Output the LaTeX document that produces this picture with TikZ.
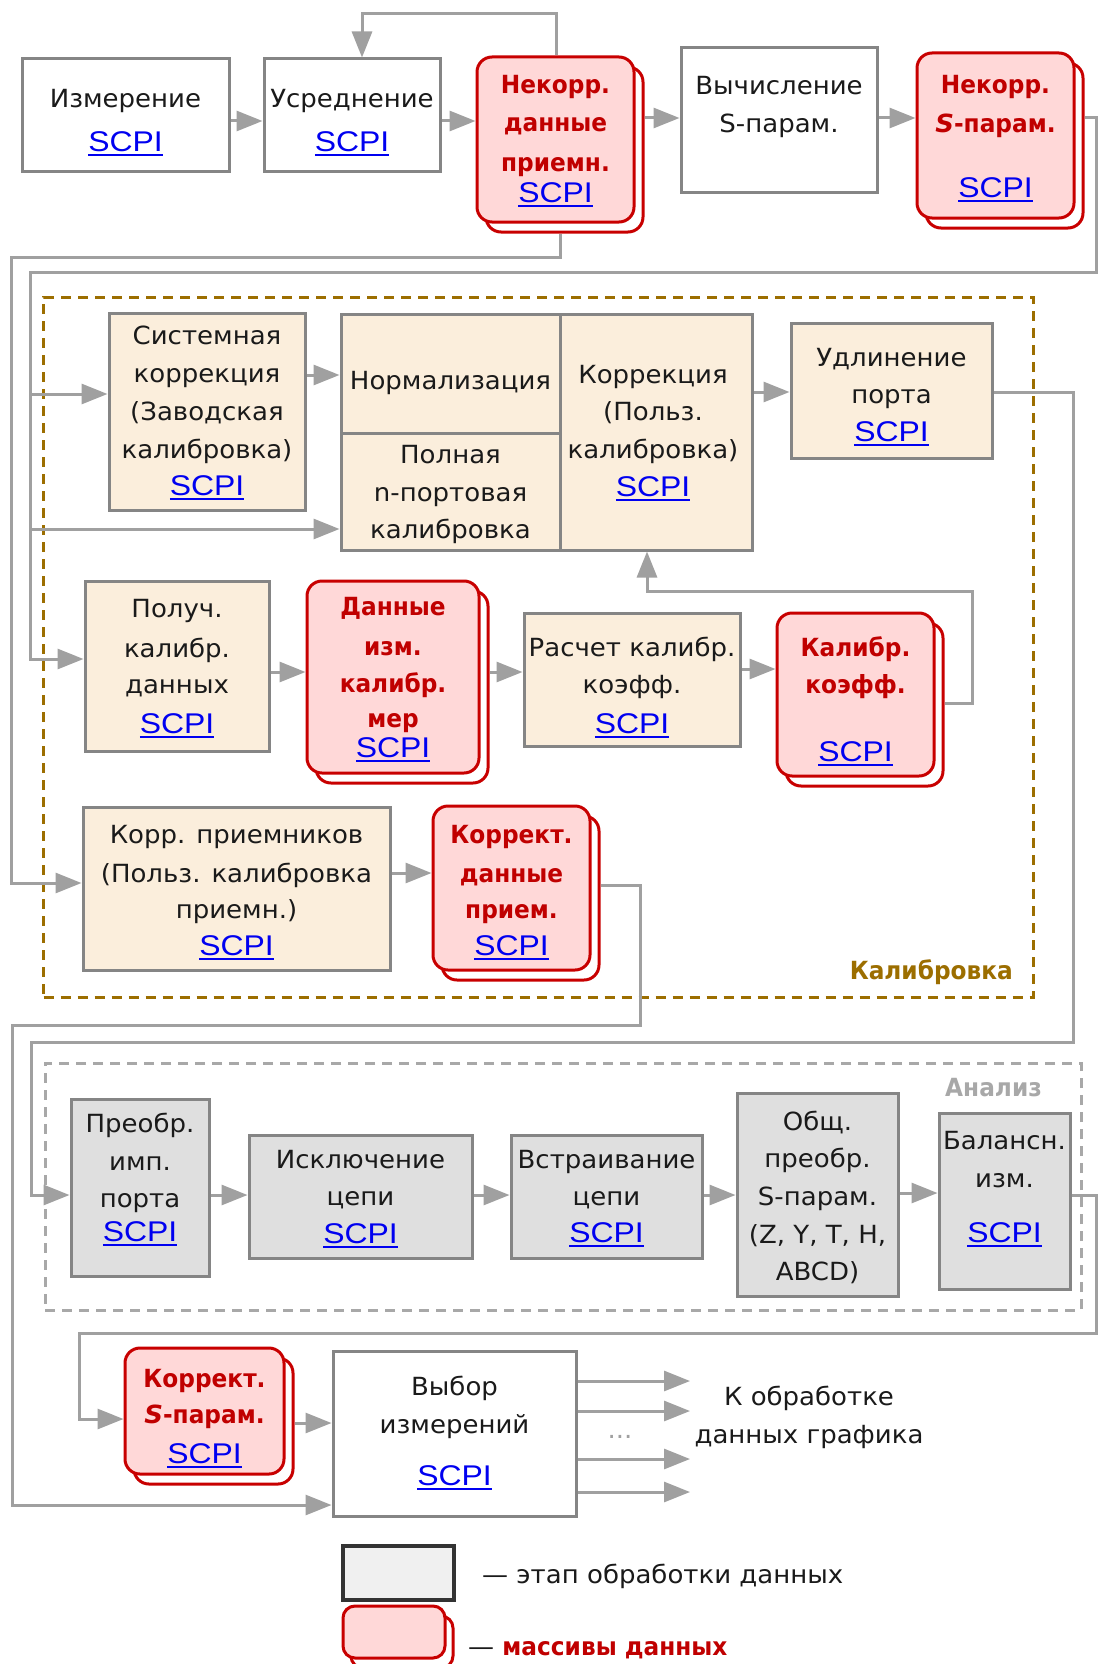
\documentclass[tikz,border=0pt]{standalone}
\usepackage{fontspec}
\setmainfont[FakeStretch=1.04, BoldFeatures={FakeStretch=0.93}]{DejaVu Sans}
\newfontfamily\scpifont[FakeStretch=1.12]{Liberation Sans}
\usetikzlibrary{arrows.meta}
\definecolor{lgray}{HTML}{A0A0A0}
\definecolor{bgray}{HTML}{858585}
\definecolor{beige}{HTML}{FBEEDC}
\definecolor{agray}{HTML}{DFDFDF}
\definecolor{rborder}{HTML}{C80000}
\definecolor{rfill}{HTML}{FFD8D8}
\definecolor{rtext}{HTML}{C00000}
\definecolor{scpiblue}{HTML}{0000F0}
\definecolor{tcol}{HTML}{1A1A1A}
\definecolor{calgold}{HTML}{9C6E00}
\definecolor{angray}{HTML}{A8A8A8}
\definecolor{legdark}{HTML}{333333}
\definecolor{legfill}{HTML}{F0F0F0}
\newcommand\ulscpi{\setbox0\hbox{SCPI}\rlap{\raisebox{-4.5pt}{\rule{\wd0}{2pt}}}\box0}
\tikzset{
  conn/.style={draw=lgray, line width=3pt, -{Triangle[length=26pt,width=20pt]}},
  sz/.style 2 args={minimum width=#1pt, minimum height=#2pt},
  wbox/.style={draw=bgray, line width=3pt, fill=white, inner sep=0pt},
  cbox/.style={wbox, fill=beige},
  abox/.style={wbox, fill=agray},
  rfront/.style={draw=rborder, line width=3pt, fill=rfill, rounded corners=15pt, inner sep=0pt},
  rback/.style={draw=rborder, line width=3pt, fill=white, rounded corners=15pt, inner sep=0pt},
  tx/.style={anchor=base, inner sep=0pt, text=tcol, font=\fontsize{25}{28}\selectfont},
  rt/.style={anchor=base, inner sep=0pt, text=rtext, font=\bfseries\fontsize{25}{28}\selectfont},
  sc/.style={anchor=base, inner sep=0pt, text=scpiblue, font=\scpifont\fontsize{28.5}{30}\selectfont},
  frame/.style={line width=3pt, dash pattern=on 10pt off 7pt, inner sep=0pt}
}
\begin{document}
\begin{tikzpicture}[x=1pt,y=-1pt]
\fill[white] (0,0) rectangle (1098,1664);
\useasboundingbox (0,0) rectangle (1098,1664);

% group frames
\node[frame, draw=calgold, sz={989.5}{700}] (calib) at (538.25,647) {};
\node[frame, draw=angray, sz={1036}{247}] (anal) at (563,1186.5) {};
\node[anchor=base east, inner sep=0pt, text=calgold, font=\bfseries\fontsize{25}{28}\selectfont] (calibl) at (1013,979) {Калибровка};
\node[anchor=base east, inner sep=0pt, text=angray, font=\bfseries\fontsize{25}{28}\selectfont] (anall) at (1042,1096) {Анализ};

% top row
\node[wbox, sz={207}{113}] (meas) at (125.5,115.5) {};
\node[wbox, sz={176}{113}] (avg) at (352,115.5) {};
\node[rback, sz={157}{165}] (nkdb) at (564.5,149.5) {};
\node[rfront, sz={157}{165}] (nkd) at (555.5,139.5) {};
\node[wbox, sz={196}{145}] (calc) at (779,120.5) {};
\node[rback, sz={157}{165}] (nksb) at (1004.5,145.5) {};
\node[rfront, sz={157}{165}] (nks) at (995.5,135.5) {};

% calibration
\node[cbox, sz={196}{197}] (sys) at (207,411.5) {};
\node[cbox, sz={219}{119}] (norm) at (450.5,373.5) {};
\node[cbox, sz={219}{117}] (full) at (450.5,491.5) {};
\node[cbox, sz={192}{236}] (corr) at (656,432) {};
\node[cbox, sz={201}{135}] (udl) at (891.5,390.5) {};
\node[cbox, sz={184}{170}] (pol) at (177,666) {};
\node[rback, sz={172}{192}] (dimb) at (402,687) {};
\node[rfront, sz={172}{192}] (dim) at (393,677) {};
\node[cbox, sz={216}{133}] (ras) at (632,679.5) {};
\node[rback, sz={157}{163}] (kkb) at (864.5,704.5) {};
\node[rfront, sz={157}{163}] (kk) at (855.5,694.5) {};
\node[cbox, sz={307}{163}] (korr) at (236.5,888.5) {};
\node[rback, sz={157}{164}] (kdpb) at (520.5,898) {};
\node[rfront, sz={157}{164}] (kdp) at (511.5,888) {};

% analysis
\node[abox, sz={138}{177}] (preobr) at (140,1187.5) {};
\node[abox, sz={223}{123}] (iskl) at (360.5,1196.5) {};
\node[abox, sz={191}{123}] (vstr) at (606.5,1196.5) {};
\node[abox, sz={161}{203}] (obsh) at (817.5,1194.5) {};
\node[abox, sz={131}{176}] (bal) at (1004.5,1201) {};

% bottom
\node[rback, sz={159}{126}] (kspb) at (213.5,1421) {};
\node[rfront, sz={159}{126}] (ksp) at (204.5,1411) {};
\node[wbox, sz={243}{165}] (vyb) at (454.5,1433.5) {};

% legend
\node[wbox, draw=legdark, line width=4pt, fill=legfill, sz={111}{54}] (leg1) at (398.5,1573) {};
\node[rback, rounded corners=12pt, sz={102}{52}] (leg2b) at (402,1642) {};
\node[rfront, rounded corners=12pt, sz={102}{52}] (leg2) at (394,1632) {};
\node[tx, anchor=base west] (leg1t) at (482,1583) {— этап обработки данных};
\node[tx, anchor=base west] (leg2t) at (468,1655) {— \textcolor{rtext}{\bfseries массивы данных}};

% texts: top row
\node[tx] (meas1) at (125.5,108) {Измерение};
\node[sc] (meas2) at (125.5,152) {\ulscpi};
\node[tx] (avg1) at (352,108) {Усреднение};
\node[sc] (avg2) at (352,152) {\ulscpi};
\node[rt] (nkd1) at (555.5,94) {Некорр.};
\node[rt] (nkd2) at (555.5,132) {данные};
\node[rt] (nkd3) at (555.5,172) {приемн.};
\node[sc] (nkd4) at (555.5,202) {\ulscpi};
\node[tx] (calc1) at (779,95) {Вычисление};
\node[tx] (calc2) at (779,133) {S-парам.};
\node[rt] (nks1) at (995.5,94) {Некорр.};
\node[rt] (nks2) at (995.5,133) {\textit{S}-парам.};
\node[sc] (nks3) at (995.5,197) {\ulscpi};

% texts: calibration
\node[tx] (sys1) at (207,344) {Системная};
\node[tx] (sys2) at (207,382) {коррекция};
\node[tx] (sys3) at (207,420) {(Заводская};
\node[tx] (sys4) at (207,458) {калибровка)};
\node[sc] (sys5) at (207,495) {\ulscpi};
\node[tx] (norm1) at (450.5,389) {Нормализация};
\node[tx] (full1) at (450.5,463) {Полная};
\node[tx] (full2) at (450.5,501) {n-портовая};
\node[tx] (full3) at (450.5,538) {калибровка};
\node[tx] (corr1) at (653,383) {Коррекция};
\node[tx] (corr2) at (653,420) {(Польз.};
\node[tx] (corr3) at (653,458) {калибровка)};
\node[sc] (corr4) at (653,496) {\ulscpi};
\node[tx] (udl1) at (891.5,366) {Удлинение};
\node[tx] (udl2) at (891.5,403) {порта};
\node[sc] (udl3) at (891.5,441) {\ulscpi};
\node[tx] (pol1) at (177,617) {Получ.};
\node[tx] (pol2) at (177,657) {калибр.};
\node[tx] (pol3) at (177,693) {данных};
\node[sc] (pol4) at (177,733) {\ulscpi};
\node[rt] (dim1) at (393,615) {Данные};
\node[rt] (dim2) at (393,655) {изм.};
\node[rt] (dim3) at (393,692) {калибр.};
\node[rt] (dim4) at (393,727) {мер};
\node[sc] (dim5) at (393,757) {\ulscpi};
\node[tx] (ras1) at (632,656) {Расчет калибр.};
\node[tx] (ras2) at (632,693) {коэфф.};
\node[sc] (ras3) at (632,733) {\ulscpi};
\node[rt] (kk1) at (855.5,656) {Калибр.};
\node[rt] (kk2) at (855.5,693) {коэфф.};
\node[sc] (kk3) at (855.5,761) {\ulscpi};
\node[tx] (korr1) at (236.5,843) {Корр. приемников};
\node[tx] (korr2) at (236.5,882) {(Польз. калибровка};
\node[tx] (korr3) at (236.5,918) {приемн.)};
\node[sc] (korr4) at (236.5,955) {\ulscpi};
\node[rt] (kdp1) at (511.5,843) {Коррект.};
\node[rt] (kdp2) at (511.5,882) {данные};
\node[rt] (kdp3) at (511.5,918) {прием.};
\node[sc] (kdp4) at (511.5,955) {\ulscpi};

% texts: analysis
\node[tx] (preobr1) at (140,1132) {Преобр.};
\node[tx] (preobr2) at (140,1170) {имп.};
\node[tx] (preobr3) at (140,1207) {порта};
\node[sc] (preobr4) at (140,1241) {\ulscpi};
\node[tx] (iskl1) at (360.5,1168) {Исключение};
\node[tx] (iskl2) at (360.5,1205) {цепи};
\node[sc] (iskl3) at (360.5,1243) {\ulscpi};
\node[tx] (vstr1) at (606.5,1168) {Встраивание};
\node[tx] (vstr2) at (606.5,1205) {цепи};
\node[sc] (vstr3) at (606.5,1242) {\ulscpi};
\node[tx] (obsh1) at (817.5,1130) {Общ.};
\node[tx] (obsh2) at (817.5,1167) {преобр.};
\node[tx] (obsh3) at (817.5,1205) {S-парам.};
\node[tx] (obsh4) at (817.5,1243) {(Z, Y, T, H,};
\node[tx] (obsh5) at (817.5,1280) {ABCD)};
\node[tx] (bal1) at (1004.5,1149) {Балансн.};
\node[tx] (bal2) at (1004.5,1187) {изм.};
\node[sc] (bal3) at (1004.5,1242) {\ulscpi};

% texts: bottom
\node[rt] (ksp1) at (204.5,1387) {Коррект.};
\node[rt] (ksp2) at (204.5,1423) {\textit{S}-парам.};
\node[sc] (ksp3) at (204.5,1463) {\ulscpi};
\node[tx] (vyb1) at (454.5,1395) {Выбор};
\node[tx] (vyb2) at (454.5,1433) {измерений};
\node[sc] (vyb3) at (454.5,1485) {\ulscpi};
\node[tx] (out1t) at (809,1405) {К обработке};
\node[tx] (out2t) at (809,1443) {данных графика};
\node[tx, text=lgray] (dots) at (620,1438) {...};

% connector bend points
\coordinate (b1) at (556,14);
\coordinate (b2) at (362,14);
\coordinate (e0) at (1096,118);
\coordinate (e1) at (1096,272);
\coordinate (e2) at (30,272);
\coordinate (e3) at (30,659);
\coordinate (f1) at (560,257);
\coordinate (f2) at (11,257);
\coordinate (f3) at (11,883);
\coordinate (g0) at (1073,392);
\coordinate (g1) at (1073,1042);
\coordinate (g2) at (31,1042);
\coordinate (g3) at (31,1195);
\coordinate (m0) at (972,703);
\coordinate (m1) at (972,591);
\coordinate (m2) at (647,591);
\coordinate (o0) at (640,885);
\coordinate (o1) at (640,1025);
\coordinate (o2) at (12,1025);
\coordinate (o3) at (12,1505);
\coordinate (q0) at (1096,1195);
\coordinate (q1) at (1096,1333);
\coordinate (q2) at (79,1333);
\coordinate (q3) at (79,1419);
\coordinate (out1) at (690,1381);
\coordinate (out2) at (690,1411);
\coordinate (out3) at (690,1459);
\coordinate (out4) at (690,1492);

% connectors
\draw[conn] (meas.east |- 0,121) -- (avg.west |- 0,121);
\draw[conn] (nkd.north -| b1) -- (b1) -- (b2) -- (avg.north -| b2);
\draw[conn] (avg.east |- 0,121) -- (nkd.west |- 0,121);
\draw[conn] (nkdb.east |- 0,118) -- (calc.west |- 0,118);
\draw[conn] (calc.east |- 0,118) -- (nks.west |- 0,118);
\draw[conn] (nksb.east |- e0) -- (e0) -- (e1) -- (e2) -- (e3) -- (pol.west |- e3);
\draw[conn] (e2 |- 0,394) -- (sys.west |- 0,394);
\draw[conn] (e2 |- 0,529) -- (full.west |- 0,529);
\draw[conn] (nkdb.south -| f1) -- (f1) -- (f2) -- (f3) -- (korr.west |- f3);
\draw[conn] (sys.east |- 0,375) -- (norm.west |- 0,375);
\draw[conn] (corr.east |- 0,392) -- (udl.west |- 0,392);
\draw[conn] (udl.east |- g0) -- (g0) -- (g1) -- (g2) -- (g3) -- (preobr.west |- g3);
\draw[conn] (pol.east |- 0,672) -- (dim.west |- 0,672);
\draw[conn] (dimb.east |- 0,672) -- (ras.west |- 0,672);
\draw[conn] (ras.east |- 0,669) -- (kk.west |- 0,669);
\draw[conn] (kkb.east |- m0) -- (m0) -- (m1) -- (m2) -- (corr.south -| m2);
\draw[conn] (korr.east |- 0,873) -- (kdp.west |- 0,873);
\draw[conn] (kdpb.east |- o0) -- (o0) -- (o1) -- (o2) -- (o3) -- (vyb.west |- o3);
\draw[conn] (preobr.east |- 0,1195) -- (iskl.west |- 0,1195);
\draw[conn] (iskl.east |- 0,1195) -- (vstr.west |- 0,1195);
\draw[conn] (vstr.east |- 0,1195) -- (obsh.west |- 0,1195);
\draw[conn] (obsh.east |- 0,1193) -- (bal.west |- 0,1193);
\draw[conn] (bal.east |- q0) -- (q0) -- (q1) -- (q2) -- (q3) -- (ksp.west |- q3);
\draw[conn] (kspb.east |- 0,1423) -- (vyb.west |- 0,1423);
\draw[conn] (vyb.east |- out1) -- (out1);
\draw[conn] (vyb.east |- out2) -- (out2);
\draw[conn] (vyb.east |- out3) -- (out3);
\draw[conn] (vyb.east |- out4) -- (out4);
\end{tikzpicture}
\end{document}
